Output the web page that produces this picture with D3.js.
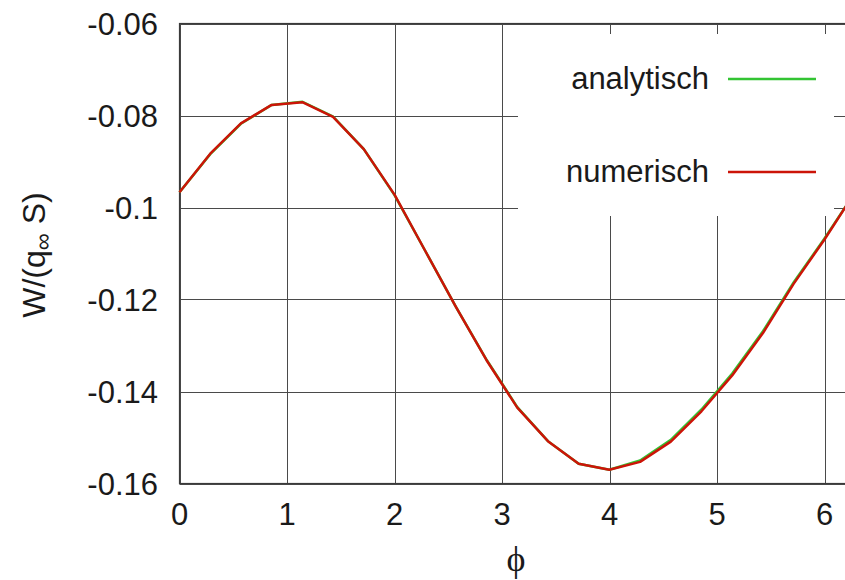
<!DOCTYPE html>
<html>
<head>
<meta charset="utf-8">
<script src="https://cdn.jsdelivr.net/npm/d3@7"></script>
<style>
  body { margin: 0; background: #fff; }
  text { font-family: "Liberation Sans", Arial, sans-serif; fill: #1a1a1a; }
</style>
</head>
<body>
<script>
// chart values
var phi = [0, 0.286, 0.571, 0.857, 1.142, 1.428, 1.714, 2.0, 2.285, 2.571, 2.856, 3.142,
           3.427, 3.713, 3.998, 4.284, 4.570, 4.855, 5.141, 5.427, 5.712, 5.998, 6.283];
var numerisch = [-0.0967, -0.0883, -0.0817, -0.0777, -0.0771, -0.0803, -0.0873, -0.0972,
                 -0.1094, -0.1216, -0.1332, -0.1435, -0.1508, -0.1557, -0.1570, -0.1553,
                 -0.1509, -0.1443, -0.1365, -0.1273, -0.1166, -0.1070, -0.0967];
var analytisch = [-0.0967, -0.0884, -0.0818, -0.0777, -0.0770, -0.0802, -0.0873, -0.0973,
                  -0.1094, -0.1216, -0.1331, -0.1434, -0.1508, -0.1557, -0.1570, -0.1550,
                  -0.1505, -0.1439, -0.1361, -0.1269, -0.1163, -0.1068, -0.0967];
var xTicks = [0, 1, 2, 3, 4, 5, 6];
var yTicks = [-0.16, -0.14, -0.12, -0.1, -0.08, -0.06];
var yTickLabels = ["-0.16", "-0.14", "-0.12", "-0.1", "-0.08", "-0.06"];
var legendNames = ["analytisch", "numerisch"];
var legendColors = ["#33c433", "#cc1408"];

var width = 845;
var height = 580;
var plotL = 179.5, plotR = 855, plotT = 23.5, plotB = 483.5;

var svg = d3.select("body")
  .append("svg")
  .attr("width", width)
  .attr("height", height);

var x = d3.scaleLinear().domain([0, 2 * Math.PI]).range([plotL, plotR]);
var y = d3.scaleLinear().domain([-0.16, -0.06]).range([plotB, plotT]);

// grid
svg.append("g").selectAll("line").data(xTicks).enter().append("line")
  .attr("x1", d => Math.round(x(d)) + 0.5).attr("x2", d => Math.round(x(d)) + 0.5)
  .attr("y1", plotT).attr("y2", plotB)
  .attr("stroke", "#4a4a4a").attr("stroke-width", 1);
svg.append("g").selectAll("line").data(yTicks).enter().append("line")
  .attr("x1", plotL).attr("x2", plotR)
  .attr("y1", d => Math.round(y(d)) + 0.5).attr("y2", d => Math.round(y(d)) + 0.5)
  .attr("stroke", "#4a4a4a").attr("stroke-width", 1);

// border
svg.append("rect")
  .attr("x", plotL).attr("y", plotT)
  .attr("width", plotR - plotL).attr("height", plotB - plotT)
  .attr("fill", "none").attr("stroke", "#3a3a3a").attr("stroke-width", 1.2);

// opaque key box
svg.append("rect")
  .attr("x", 518).attr("y", 34)
  .attr("width", 316).attr("height", 182)
  .attr("fill", "#fff");

// tick labels
svg.append("g").selectAll("text").data(xTicks).enter().append("text")
  .attr("x", d => x(d))
  .attr("y", 525)
  .attr("text-anchor", "middle")
  .attr("font-size", 31)
  .text(d => d);
svg.append("g").selectAll("text").data(yTicks).enter().append("text")
  .attr("x", 158)
  .attr("y", d => y(d) + 11)
  .attr("text-anchor", "end")
  .attr("font-size", 31)
  .text((d, i) => yTickLabels[i]);

// axis titles
svg.append("text")
  .attr("x", 516).attr("y", 571)
  .attr("text-anchor", "middle")
  .attr("font-size", 36)
  .style("font-family", "'Liberation Serif', 'DejaVu Serif', serif")
  .text("\u03d5");

var ylab = svg.append("text")
  .attr("transform", "translate(45,255) rotate(-90)")
  .attr("text-anchor", "middle")
  .attr("font-size", 32);
ylab.append("tspan").text("W/(q");
ylab.append("tspan").attr("font-size", 24).attr("dy", 6).text("\u221e");
ylab.append("tspan").attr("dy", -6).text(" S)");

// curves
var line = d3.line()
  .x((d, i) => x(phi[i]))
  .y(d => y(d));

svg.append("path").datum(analytisch)
  .attr("d", line)
  .attr("fill", "none")
  .attr("stroke", legendColors[0])
  .attr("stroke-width", 2.5);
svg.append("path").datum(numerisch)
  .attr("d", line)
  .attr("fill", "none")
  .attr("stroke", legendColors[1])
  .attr("stroke-width", 2.5)
  .attr("stroke-linejoin", "round");

// legend
var keyRows = [79, 172];
legendNames.forEach(function(name, i) {
  svg.append("text")
    .attr("x", 709).attr("y", keyRows[i] + 10)
    .attr("text-anchor", "end")
    .attr("font-size", 31)
    .text(name);
  svg.append("line")
    .attr("x1", 728).attr("x2", 816)
    .attr("y1", keyRows[i]).attr("y2", keyRows[i])
    .attr("stroke", legendColors[i])
    .attr("stroke-width", 2.5);
});
</script>
</body>
</html>
